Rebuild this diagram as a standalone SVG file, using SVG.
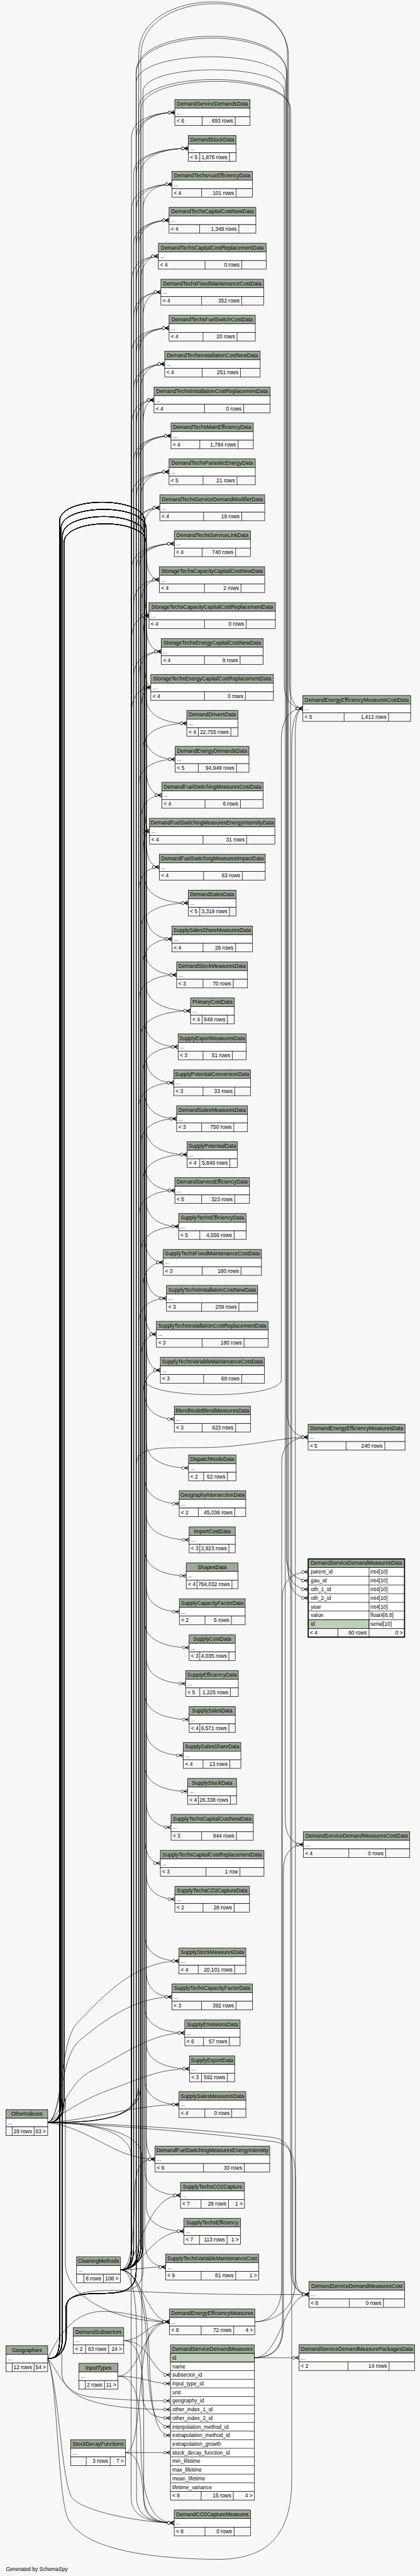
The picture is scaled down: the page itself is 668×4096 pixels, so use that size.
<svg xmlns="http://www.w3.org/2000/svg" width="668" height="4096" viewBox="0 0 668 4096">
<defs>
<style>
.h{fill:#9bab96;stroke:#000;stroke-width:1.3}
.w{fill:#fff;stroke:#000;stroke-width:1.3}
.f{fill:#f7f7f7;stroke:#000;stroke-width:1.3}
.p{fill:#bed1b8;stroke:#000;stroke-width:1.3}
.s{fill:none;stroke:#000;stroke-width:1.3}
text{font-family:"Liberation Sans",Arial,Helvetica,sans-serif;font-size:14.67px;fill:#000}
.c{text-anchor:middle}
.e{text-anchor:end}
.ed path{fill:none;stroke:#000;stroke-width:1.1;marker-end:url(#cf)}
</style>
<marker id="cf" markerUnits="userSpaceOnUse" orient="auto" markerWidth="24" markerHeight="14" refX="20" refY="7" viewBox="0 0 24 14" overflow="visible">
<path d="M9,7L20,1.5M9,7L20,7M9,7L20,12.5" fill="none" stroke="#000" stroke-width="1.5"/>
<circle cx="5" cy="7" r="4" fill="#fff" stroke="#000" stroke-width="1.2"/>
</marker>
</defs>
<rect width="668" height="4096" fill="#f7f7f7"/>
<g transform="scale(0.5714)">
<g id="connectors" class="ed">
<path d="M334.9,6316.5C360,6316.5 386,6300 386,6250V383C386,333 436,313 486.7,313"/>
<path d="M334.9,6316.5C360,6316.5 392,6300 392,6250V483C392,433 458,413 524,413"/>
<path d="M334.9,6316.5C360,6316.5 398,6300 398,6250V583C398,533 438,513 478.6,513"/>
<path d="M334.9,6316.5C360,6316.5 386,6300 386,6250V683C386,633 428,613 470.6,613"/>
<path d="M334.9,6316.5C360,6316.5 392,6300 392,6250V783C392,733 416,713 440.9,713"/>
<path d="M334.9,6316.5C360,6316.5 398,6300 398,6250V883C398,833 423,813 447.9,813"/>
<path d="M334.9,6316.5C360,6316.5 386,6300 386,6250V983C386,933 428,913 470.6,913"/>
<path d="M334.9,6316.5C360,6316.5 392,6300 392,6250V1083C392,1033 425,1013 458.5,1013"/>
<path d="M334.9,6316.5C360,6316.5 398,6300 398,6250V1183C398,1133 413,1113 428.8,1113"/>
<path d="M334.9,6316.5C360,6316.5 386,6300 386,6250V1283C386,1233 431,1213 476.1,1213"/>
<path d="M334.9,6316.5C360,6316.5 392,6300 392,6250V1383C392,1333 431,1313 470.6,1313"/>
<path d="M334.9,6316.5C360,6316.5 398,6300 398,6250V1483C398,1433 421,1413 444.9,1413"/>
<path d="M334.9,6316.5C360,6316.5 386,6300 386,6250V1583C386,1533 436,1513 485.2,1513"/>
<path d="M334.9,6316.5C360,6316.5 392,6300 392,6250V1683C392,1633 418,1613 443.4,1613"/>
<path d="M334.9,6316.5C360,6316.5 398,6300 398,6250V1783C398,1733 406,1713 414.7,1713"/>
<path d="M334.9,6316.5C360,6316.5 386,6300 386,6250V1883C386,1833 418,1813 449,1813"/>
<path d="M334.9,6316.5C360,6316.5 392,6300 392,6250V1983C392,1933 406,1913 419.8,1913"/>
<path d="M334.9,6316.5C360,6316.5 398,6300 398,6250V2083C398,2033 459,2013 519.9,2013"/>
<path d="M334.9,6316.5C360,6316.5 386,6300 386,6250V2183C386,2133 437,2113 487.7,2113"/>
<path d="M334.9,6316.5C360,6316.5 392,6300 392,6250V2283C392,2233 421,2213 450.5,2213"/>
<path d="M334.9,6316.5C360,6316.5 398,6300 398,6250V2383C398,2333 407,2313 416.2,2313"/>
<path d="M334.9,6316.5C360,6316.5 386,6300 386,6250V2483C386,2433 415,2413 443.4,2413"/>
<path d="M334.9,6316.5C360,6316.5 392,6300 392,6250V2583C392,2533 458,2513 524,2513"/>
<path d="M334.9,6316.5C360,6316.5 398,6300 398,6250V2683C398,2633 438,2613 478.6,2613"/>
<path d="M334.9,6316.5C360,6316.5 386,6300 386,6250V2783C386,2733 439,2713 491.7,2713"/>
<path d="M334.9,6316.5C360,6316.5 392,6300 392,6250V2883C392,2833 461,2813 530.5,2813"/>
<path d="M334.9,6316.5C360,6316.5 398,6300 398,6250V2983C398,2933 447,2913 495.8,2913"/>
<path d="M334.9,6316.5C360,6316.5 386,6300 386,6250V3083C386,3033 435,3013 483.7,3013"/>
<path d="M334.9,6316.5C360,6316.5 392,6300 392,6250V3183C392,3133 442,3113 491.7,3113"/>
<path d="M334.9,6316.5C360,6316.5 398,6300 398,6250V3283C398,3233 459,3213 520.9,3213"/>
<path d="M334.9,6316.5C360,6316.5 386,6300 386,6250V3383C386,3333 436,3313 486.7,3313"/>
<path d="M334.9,6316.5C360,6316.5 392,6300 392,6250V3483C392,3433 445,3413 497.3,3413"/>
<path d="M334.9,6316.5C360,6316.5 398,6300 398,6250V3583C398,3533 426,3513 454.5,3513"/>
<path d="M334.9,6316.5C360,6316.5 386,6300 386,6250V3683C386,3633 425,3613 463.5,3613"/>
<path d="M334.9,6316.5C360,6316.5 392,6300 392,6250V3783C392,3733 414,3713 435.4,3713"/>
<path d="M334.9,6316.5C360,6316.5 398,6300 398,6250V3883C398,3833 422,3813 446.4,3813"/>
<path d="M334.9,6316.5C360,6316.5 366,6300 366,6250V383C366,333 426,313 486.7,313"/>
<path d="M334.9,6316.5C360,6316.5 372,6300 372,6250V483C372,433 448,413 524,413"/>
<path d="M334.9,6316.5C360,6316.5 366,6300 366,6250V583C366,533 422,513 478.6,513"/>
<path d="M334.9,6316.5C360,6316.5 372,6300 372,6250V683C372,633 421,613 470.6,613"/>
<path d="M334.9,6316.5C360,6316.5 366,6300 366,6250V783C366,733 403,713 440.9,713"/>
<path d="M334.9,6316.5C360,6316.5 372,6300 372,6250V883C372,833 410,813 447.9,813"/>
<path d="M334.9,6316.5C360,6316.5 366,6300 366,6250V983C366,933 418,913 470.6,913"/>
<path d="M334.9,6316.5C360,6316.5 372,6300 372,6250V1083C372,1033 415,1013 458.5,1013"/>
<path d="M334.9,6316.5C360,6316.5 366,6300 366,6250V1183C366,1133 397,1113 428.8,1113"/>
<path d="M334.9,6316.5C360,6316.5 372,6300 372,6250V1283C372,1233 424,1213 476.1,1213"/>
<path d="M334.9,6316.5C360,6316.5 366,6300 366,6250V1383C366,1333 418,1313 470.6,1313"/>
<path d="M334.9,6316.5C360,6316.5 372,6300 372,6250V1483C372,1433 408,1413 444.9,1413"/>
<path d="M334.9,6316.5C360,6316.5 366,6300 366,6250V1583C366,1533 426,1513 485.2,1513"/>
<path d="M334.9,6316.5C360,6316.5 372,6300 372,6250V1683C372,1633 408,1613 443.4,1613"/>
<path d="M334.9,6316.5C360,6316.5 366,6300 366,6250V1783C366,1733 390,1713 414.7,1713"/>
<path d="M334.9,6316.5C360,6316.5 372,6300 372,6250V1883C372,1833 410,1813 449,1813"/>
<path d="M334.9,6316.5C360,6316.5 366,6300 366,6250V1983C366,1933 393,1913 419.8,1913"/>
<path d="M132.8,6563.5C160,6563.5 184,6545 184,6500V6420C184,6390 220,6382 280,6382C340,6382 379,6375 379,6320V383C379,333 433,313 486.7,313"/>
<path d="M132.8,6563.5C160,6563.5 184,6545 184,6500V6420C184,6390 220,6382 280,6382C340,6382 379,6375 379,6320V483C379,433 451,413 524,413"/>
<path d="M132.8,6563.5C160,6563.5 184,6545 184,6500V6420C184,6390 220,6382 280,6382C340,6382 379,6375 379,6320V583C379,533 429,513 478.6,513"/>
<path d="M132.8,6563.5C160,6563.5 184,6545 184,6500V6420C184,6390 220,6382 280,6382C340,6382 379,6375 379,6320V683C379,633 425,613 470.6,613"/>
<path d="M132.8,6563.5C160,6563.5 184,6545 184,6500V6420C184,6390 220,6382 280,6382C340,6382 379,6375 379,6320V783C379,733 410,713 440.9,713"/>
<path d="M132.8,6563.5C160,6563.5 184,6545 184,6500V6420C184,6390 220,6382 280,6382C340,6382 379,6375 379,6320V883C379,833 413,813 447.9,813"/>
<path d="M132.8,6563.5C160,6563.5 184,6545 184,6500V6420C184,6390 220,6382 280,6382C340,6382 379,6375 379,6320V983C379,933 425,913 470.6,913"/>
<path d="M132.8,6563.5C160,6563.5 184,6545 184,6500V6420C184,6390 220,6382 280,6382C340,6382 379,6375 379,6320V1083C379,1033 419,1013 458.5,1013"/>
<path d="M132.8,6563.5C160,6563.5 184,6545 184,6500V6420C184,6390 220,6382 280,6382C340,6382 379,6375 379,6320V1183C379,1133 404,1113 428.8,1113"/>
<path d="M132.8,6563.5C160,6563.5 184,6545 184,6500V6420C184,6390 220,6382 280,6382C340,6382 379,6375 379,6320V1283C379,1233 428,1213 476.1,1213"/>
<path d="M132.8,6563.5C160,6563.5 184,6545 184,6500V6420C184,6390 220,6382 280,6382C340,6382 379,6375 379,6320V1383C379,1333 425,1313 470.6,1313"/>
<path d="M132.8,6563.5C160,6563.5 184,6545 184,6500V6420C184,6390 220,6382 280,6382C340,6382 379,6375 379,6320V1483C379,1433 412,1413 444.9,1413"/>
<path d="M132.8,6563.5C160,6563.5 184,6545 184,6500V6420C184,6390 220,6382 280,6382C340,6382 379,6375 379,6320V1583C379,1533 432,1513 485.2,1513"/>
<path d="M132.8,5906.5C160,5906.5 170,5890 170,5840V1470C170,1400 407,1400 407,1470V1543C407,1593 425,1613 443.4,1613"/>
<path d="M132.8,6563.5C160,6563.5 174,6545 174,6500V1490C174,1420 403,1420 403,1490V1643C403,1693 409,1713 414.7,1713"/>
<path d="M132.8,5906.5C160,5906.5 178,5890 178,5840V1510C178,1440 407,1440 407,1510V1743C407,1793 428,1813 449,1813"/>
<path d="M132.8,6563.5C160,6563.5 166,6545 166,6500V1450C166,1380 403,1380 403,1450V1843C403,1893 411,1913 419.8,1913"/>
<path d="M132.8,5906.5C160,5906.5 170,5890 170,5840V1470C170,1400 407,1400 407,1470V1943C407,1993 463,2013 519.9,2013"/>
<path d="M132.8,6563.5C160,6563.5 174,6545 174,6500V1490C174,1420 403,1420 403,1490V2043C403,2093 445,2113 487.7,2113"/>
<path d="M132.8,5906.5C160,5906.5 178,5890 178,5840V1510C178,1440 407,1440 407,1510V2143C407,2193 429,2213 450.5,2213"/>
<path d="M132.8,6563.5C160,6563.5 166,6545 166,6500V1450C166,1380 403,1380 403,1450V2243C403,2293 410,2313 416.2,2313"/>
<path d="M132.8,5906.5C160,5906.5 170,5890 170,5840V1470C170,1400 407,1400 407,1470V2343C407,2393 425,2413 443.4,2413"/>
<path d="M132.8,6563.5C160,6563.5 174,6545 174,6500V1490C174,1420 403,1420 403,1490V2443C403,2493 463,2513 524,2513"/>
<path d="M132.8,5906.5C160,5906.5 178,5890 178,5840V1510C178,1440 407,1440 407,1510V2543C407,2593 443,2613 478.6,2613"/>
<path d="M132.8,6563.5C160,6563.5 166,6545 166,6500V1450C166,1380 403,1380 403,1450V2643C403,2693 447,2713 491.7,2713"/>
<path d="M132.8,5906.5C160,5906.5 170,5890 170,5840V1470C170,1400 407,1400 407,1470V2743C407,2793 469,2813 530.5,2813"/>
<path d="M132.8,6563.5C160,6563.5 174,6545 174,6500V1490C174,1420 403,1420 403,1490V2843C403,2893 449,2913 495.8,2913"/>
<path d="M132.8,5906.5C160,5906.5 178,5890 178,5840V1510C178,1440 407,1440 407,1510V2943C407,2993 445,3013 483.7,3013"/>
<path d="M132.8,6563.5C160,6563.5 166,6545 166,6500V1450C166,1380 403,1380 403,1450V3043C403,3093 447,3113 491.7,3113"/>
<path d="M132.8,5906.5C160,5906.5 170,5890 170,5840V1470C170,1400 407,1400 407,1470V3143C407,3193 464,3213 520.9,3213"/>
<path d="M132.8,6563.5C160,6563.5 174,6545 174,6500V1490C174,1420 403,1420 403,1490V3243C403,3293 445,3313 486.7,3313"/>
<path d="M132.8,5906.5C160,5906.5 178,5890 178,5840V1510C178,1440 407,1440 407,1510V3343C407,3393 452,3413 497.3,3413"/>
<path d="M132.8,6563.5C160,6563.5 166,6545 166,6500V1450C166,1380 403,1380 403,1450V3443C403,3493 429,3513 454.5,3513"/>
<path d="M132.8,5906.5C160,5906.5 170,5890 170,5840V1470C170,1400 407,1400 407,1470V3543C407,3593 435,3613 463.5,3613"/>
<path d="M132.8,6563.5C160,6563.5 174,6545 174,6500V1490C174,1420 403,1420 403,1490V3643C403,3693 419,3713 435.4,3713"/>
<path d="M132.8,5906.5C160,5906.5 178,5890 178,5840V1510C178,1440 407,1440 407,1510V3743C407,3793 427,3813 446.4,3813"/>
<path d="M132.8,6563.5C160,6563.5 166,6545 166,6500V1450C166,1380 403,1380 403,1450V3879C403,3929 444,3949 485.2,3949"/>
<path d="M132.8,5906.5C160,5906.5 170,5890 170,5840V1470C170,1400 407,1400 407,1470V4015C407,4065 466,4085 524.9,4085"/>
<path d="M132.8,6563.5C160,6563.5 174,6545 174,6500V1490C174,1420 403,1420 403,1490V4114.5C403,4164.5 451,4184.5 498.8,4184.5"/>
<path d="M132.8,5906.5C160,5906.5 178,5890 178,5840V1510C178,1440 407,1440 407,1510V4215C407,4265 467,4285 526.5,4285"/>
<path d="M132.8,6563.5C160,6563.5 166,6545 166,6500V1450C166,1380 403,1380 403,1450V4315C403,4365 461,4385 518.4,4385"/>
<path d="M132.8,5906.5C160,5906.5 170,5890 170,5840V1470C170,1400 407,1400 407,1470V4415C407,4465 453,4485 499.3,4485"/>
<path d="M132.8,6563.5C160,6563.5 174,6545 174,6500V1490C174,1420 403,1420 403,1490V4515C403,4565 465,4585 526.5,4585"/>
<path d="M132.8,5906.5C160,5906.5 178,5890 178,5840V1510C178,1440 407,1440 407,1510V4615C407,4665 462,4685 516.9,4685"/>
<path d="M132.8,6563.5C160,6563.5 166,6545 166,6500V1450C166,1380 403,1380 403,1450V4715C403,4765 465,4785 526.5,4785"/>
<path d="M132.8,5906.5C160,5906.5 170,5890 170,5840V1470C170,1400 407,1400 407,1470V4815C407,4865 459,4885 510.3,4885"/>
<path d="M132.8,6563.5C160,6563.5 174,6545 174,6500V1490C174,1420 403,1420 403,1490V4915C403,4965 463,4985 522.4,4985"/>
<path d="M132.8,5906.5C160,5906.5 178,5890 178,5840V1510C178,1440 407,1440 407,1510V5015C407,5065 442,5085 476.1,5085"/>
<path d="M132.8,6563.5C160,6563.5 166,6545 166,6500V1450C166,1380 403,1380 403,1450V5115C403,5165 425,5185 446.4,5185"/>
<path d="M132.8,5906.5C160,5906.5 170,5890 170,5840V1470C170,1400 407,1400 407,1470V5215C407,5265 447,5285 486.7,5285"/>
<path d="M132.8,6563.5C160,6563.5 174,6545 174,6500V1490C174,1420 403,1420 403,1490V5387C403,5437 451,5457 498.3,5457"/>
<path d="M132.8,5906.5C160,5906.5 178,5890 178,5840V1510C178,1440 407,1440 407,1510V5487C407,5537 443,5557 478.4,5557"/>
<path d="M132.8,6563.5C160,6563.5 166,6545 166,6500V1450C166,1380 403,1380 403,1450V5587C403,5637 459,5657 514.4,5657"/>
<path d="M132.8,5906.5C160,5906.5 170,5890 170,5840V1470C170,1400 407,1400 407,1470V5687C407,5737 467,5757 527.4,5757"/>
<path d="M132.8,6563.5C160,6563.5 174,6545 174,6500V1490C174,1420 403,1420 403,1490V5786.5C403,5836.5 451,5856.5 498.3,5856.5"/>
<path d="M132.8,5906.5C160,5906.5 178,5890 178,5840V1510C178,1440 407,1440 407,1510V5938.5C407,5988.5 419,6008.5 431.7,6008.5"/>
<path d="M132.8,6563.5C160,6563.5 166,6545 166,6500V1450C166,1380 403,1380 403,1450V6039C403,6089 453,6109 502.5,6109"/>
<path d="M132.8,5906.5C160,5906.5 170,5890 170,5840V1470C170,1400 407,1400 407,1470V6139C407,6189 460,6209 512,6209"/>
<path d="M132.8,6563.5C160,6563.5 174,6545 174,6500V1490C174,1420 403,1420 403,1490V6238.5C403,6288.5 432,6308.5 461.2,6308.5"/>
<path d="M132.8,5906.5C175,5895 165,5680 215,5630C290,5550 380,5457 498.3,5457"/>
<path d="M132.8,5906.5C170,5895 170,5720 220,5680C290,5620 380,5557 478.4,5557"/>
<path d="M132.8,5906.5C170,5890 190,5790 260,5760C340,5720 420,5657 514.4,5657"/>
<path d="M132.8,5906.5C180,5880 230,5840 320,5810C400,5780 450,5757 527.4,5757"/>
<path d="M132.8,5906.5C250,5900 380,5856.5 498.3,5856.5"/>
<path d="M132.8,5906.5C250,5920 320,6008.5 431.7,6008.5"/>
<path d="M334.9,6316.5C370,6316.5 372,6200 375,6100C378,6030 390,6008.5 431.7,6008.5"/>
<path d="M334.9,6316.5C385,6316.5 400,6109 502.5,6109"/>
<path d="M334.9,6316.5C395,6316.5 420,6209 512,6209"/>
<path d="M334.9,6316.5C380,6316.5 400,6308.5 461.2,6308.5"/>
<path d="M334.9,6316.5C395,6320 410,6461 471.9,6461"/>
<path d="M344.4,6513C400,6513 410,6461 471.9,6461"/>
<path d="M328.4,6612.5C390,6612.5 400,6461 471.9,6461"/>
<path d="M349.4,6825C380,6825 385,6700 395,6600C405,6500 420,6461 471.9,6461"/>
<path d="M132.8,6563.5C170,6480 220,6430 290,6432C380,6435 420,6461 471.9,6461"/>
<path d="M132.8,5906.5C160,5906.5 182,5890 182,5840V6300C182,6380 300,6461 471.9,6461"/>
<path d="M344.4,6513C420,6513 420,6609 474.5,6609"/>
<path d="M328.4,6612.5C400,6612.5 420,6633 474.5,6633"/>
<path d="M132.8,6563.5C165,6600 175,6660 250,6670C350,6680 420,6681 474.5,6681"/>
<path d="M132.8,5906.5C160,5906.5 172,5890 172,5840V6600C172,6680 300,6705 474.5,6705"/>
<path d="M132.8,5906.5C250,5906.5 395,5930 395,6000V6650C395,6710 420,6729 474.5,6729"/>
<path d="M334.9,6316.5C380,6316.5 405,6400 410,6550C415,6700 430,6753 474.5,6753"/>
<path d="M334.9,6316.5C385,6316.5 410,6400 415,6550C420,6720 435,6777 474.5,6777"/>
<path d="M349.4,6825H474.5"/>
<path d="M132.8,6563.5C165,6650 170,6900 200,6950C230,6990 400,7020.5 484.9,7020.5"/>
<path d="M334.9,6316.5C370,6316.5 380,6400 380,6500V6950C380,7000 420,7020.5 484.9,7020.5"/>
<path d="M344.4,6513C390,6513 400,6600 400,6700V6950C400,7005 430,7020.5 484.9,7020.5"/>
<path d="M328.4,6612.5C385,6612.5 390,6700 392,6800C394,6950 420,7020.5 484.9,7020.5"/>
<path d="M349.4,6825C390,6825 395,6900 400,6950C405,7000 430,7020.5 484.9,7020.5"/>
<path d="M132.8,5906.5C250,5906.5 365,5930 365,6000V6950C365,7005 420,7020.5 484.9,7020.5"/>
<path d="M708,6561H832.6"/>
<path d="M708,6561C780,6561 790,6385 860.2,6385"/>
<path d="M708,6561C760,6561 786,6530 786,6480V4444C786,4394 822,4374.3 858,4374.3"/>
<path d="M708,6561C765,6561 789,6530 789,6470V5203C789,5153 817,5133 844.5,5133"/>
<path d="M709.1,6461C760,6461 822,6430 822,6350V2041C822,1991 832,1971.4 843,1971.4"/>
<path d="M709.1,6461C750,6461 784,6430 784,6360V4069C784,4019 821,3999.4 857.6,3999.4"/>
<path d="M132.8,6563.5C160,6620 160,6950 190,7010C230,7090 400,7120 600,7122C740,7124 812,7060 812,6900V2070C812,2010 825,1971.4 843,1971.4"/>
<path d="M132.8,6563.5C160,6563.5 186,6545 186,6480V6420C186,6380 250,6370 350,6375C600,6388 780,6385 860.2,6385"/>
<path d="M132.8,5906.5C400,5912 650,5935 760,5948C805,5955 815,5990 815,6060V6320C815,6365 830,6385 860.2,6385"/>
<path d="M132.8,5906.5C400,5918 655,5945 765,5960C812,5968 823,6000 823,6080V6330C823,6368 835,6385 860.2,6385"/>
<path d="M132.8,6563.5C160,6563.5 166,6545 166,6500V1450C166,1380 403,1380 403,1450V3840C403,3895 783,3895 783,3840V2060C783,2000 810,1971.4 843,1971.4"/>
<path d="M132.8,6563.5C160,6563.5 184,6545 184,6500V6420C184,6390 220,6382 280,6382C340,6382 379,6375 379,6320V4080C379,4020 450,4030 581,4028C700,4025 780,4000 857.6,3999.4"/>
<path d="M132.8,5906.5C300,5906.5 386,5890 386,5800V150C386,-43 800,-43 800,150V4352.7C800,4402.7 829,4422.7 858,4422.7"/>
<path d="M132.8,5906.5C300,5906.5 392,5890 392,5800V155C392,-38 803,-38 803,155V4376.9C803,4426.9 830,4446.9 858,4446.9"/>
<path d="M132.8,6563.5C160,6563.5 184,6545 184,6500V6420C184,6390 220,6382 280,6382C340,6382 379,6375 379,6320V200C379,68 797,68 797,200V4328.5C797,4378.5 827,4398.5 858,4398.5"/>
<path d="M132.8,6563.5C160,6563.5 184,6545 184,6500V6420C184,6390 220,6382 280,6382C340,6382 379,6375 379,6320V205C379,73 799,73 799,205V3929.4C799,3979.4 828,3999.4 857.6,3999.4"/>
<path d="M132.8,6563.5C160,6563.5 184,6545 184,6500V6420C184,6390 220,6382 280,6382C340,6382 379,6375 379,6320V230C379,134 794,134 794,230V5063C794,5113 819,5133 844.5,5133"/>
<path d="M132.8,6563.5C160,6563.5 184,6545 184,6500V6420C184,6390 220,6382 280,6382C340,6382 398,6375 398,6320V255C398,174 791,174 791,255V1901.4C791,1951.4 817,1971.4 843,1971.4"/>
<path d="M132.8,5906.5C300,5906.5 386,5890 386,5800V300C386,195 806,195 806,300V1901.4C806,1951.4 824,1971.4 843,1971.4"/>
<path d="M132.8,5906.5C300,5906.5 392,5890 392,5800V305C392,200 809,200 809,305V6315C809,6365 835,6385 860.2,6385"/>
</g>
<g id="DemandServiceDemandsData" transform="translate(486.7,277)"><rect class="h" width="209.3" height="24"/><rect class="w" y="24" width="209.3" height="24"/><rect class="f" y="48" width="209.3" height="24"/><path class="s" d="M76,48v24M168.1,48v24"/><text class="c" x="104.65" y="17">DemandServiceDemandsData</text><text x="5" y="41">...</text><text x="5" y="65">&lt; 6</text><text class="e" x="162.1" y="65">693 rows</text></g>
<g id="DemandStockData" transform="translate(524,377)"><rect class="h" width="132.8" height="24"/><rect class="w" y="24" width="132.8" height="24"/><rect class="f" y="48" width="132.8" height="24"/><path class="s" d="M32,48v24M114.7,48v24"/><text class="c" x="66.4" y="17">DemandStockData</text><text x="5" y="41">...</text><text x="5" y="65">&lt; 5</text><text class="e" x="108.7" y="65">1,876 rows</text></g>
<g id="DemandTechsAuxEfficiencyData" transform="translate(478.6,477)"><rect class="h" width="224" height="24"/><rect class="w" y="24" width="224" height="24"/><rect class="f" y="48" width="224" height="24"/><path class="s" d="M82.6,48v24M178.7,48v24"/><text class="c" x="112" y="17">DemandTechsAuxEfficiencyData</text><text x="5" y="41">...</text><text x="5" y="65">&lt; 4</text><text class="e" x="172.7" y="65">101 rows</text></g>
<g id="DemandTechsCapitalCostNewData" transform="translate(470.6,577)"><rect class="h" width="241.6" height="24"/><rect class="w" y="24" width="241.6" height="24"/><rect class="f" y="48" width="241.6" height="24"/><path class="s" d="M85,48v24M194.3,48v24"/><text class="c" x="120.8" y="17">DemandTechsCapitalCostNewData</text><text x="5" y="41">...</text><text x="5" y="65">&lt; 4</text><text class="e" x="188.3" y="65">1,349 rows</text></g>
<g id="DemandTechsCapitalCostReplacementData" transform="translate(440.9,677)"><rect class="h" width="299.9" height="24"/><rect class="w" y="24" width="299.9" height="24"/><rect class="f" y="48" width="299.9" height="24"/><path class="s" d="M129.8,48v24M232,48v24"/><text class="c" x="149.95" y="17">DemandTechsCapitalCostReplacementData</text><text x="5" y="41">...</text><text x="5" y="65">&lt; 4</text><text class="e" x="226" y="65">0 rows</text></g>
<g id="DemandTechsFixedMaintenanceCostData" transform="translate(447.9,777)"><rect class="h" width="285.9" height="24"/><rect class="w" y="24" width="285.9" height="24"/><rect class="f" y="48" width="285.9" height="24"/><path class="s" d="M113.3,48v24M225,48v24"/><text class="c" x="142.95" y="17">DemandTechsFixedMaintenanceCostData</text><text x="5" y="41">...</text><text x="5" y="65">&lt; 4</text><text class="e" x="219" y="65">352 rows</text></g>
<g id="DemandTechsFuelSwitchCostData" transform="translate(470.6,877)"><rect class="h" width="240" height="24"/><rect class="w" y="24" width="240" height="24"/><rect class="f" y="48" width="240" height="24"/><path class="s" d="M94.6,48v24M189.2,48v24"/><text class="c" x="120" y="17">DemandTechsFuelSwitchCostData</text><text x="5" y="41">...</text><text x="5" y="65">&lt; 4</text><text class="e" x="183.2" y="65">20 rows</text></g>
<g id="DemandTechsInstallationCostNewData" transform="translate(458.5,977)"><rect class="h" width="265.7" height="24"/><rect class="w" y="24" width="265.7" height="24"/><rect class="f" y="48" width="265.7" height="24"/><path class="s" d="M104.2,48v24M210.9,48v24"/><text class="c" x="132.85" y="17">DemandTechsInstallationCostNewData</text><text x="5" y="41">...</text><text x="5" y="65">&lt; 4</text><text class="e" x="204.9" y="65">251 rows</text></g>
<g id="DemandTechsInstallationCostReplacementData" transform="translate(428.8,1077)"><rect class="h" width="323.1" height="24"/><rect class="w" y="24" width="323.1" height="24"/><rect class="f" y="48" width="323.1" height="24"/><path class="s" d="M140.4,48v24M249.6,48v24"/><text class="c" x="161.55" y="17">DemandTechsInstallationCostReplacementData</text><text x="5" y="41">...</text><text x="5" y="65">&lt; 4</text><text class="e" x="243.6" y="65">0 rows</text></g>
<g id="DemandTechsMainEfficiencyData" transform="translate(476.1,1177)"><rect class="h" width="229" height="24"/><rect class="w" y="24" width="229" height="24"/><rect class="f" y="48" width="229" height="24"/><path class="s" d="M80,48v24M186.7,48v24"/><text class="c" x="114.5" y="17">DemandTechsMainEfficiencyData</text><text x="5" y="41">...</text><text x="5" y="65">&lt; 4</text><text class="e" x="180.7" y="65">1,784 rows</text></g>
<g id="DemandTechsParasiticEnergyData" transform="translate(470.6,1277)"><rect class="h" width="240" height="24"/><rect class="w" y="24" width="240" height="24"/><rect class="f" y="48" width="240" height="24"/><path class="s" d="M94.6,48v24M189.2,48v24"/><text class="c" x="120" y="17">DemandTechsParasiticEnergyData</text><text x="5" y="41">...</text><text x="5" y="65">&lt; 5</text><text class="e" x="183.2" y="65">21 rows</text></g>
<g id="DemandTechsServiceDemandModifierData" transform="translate(444.9,1377)"><rect class="h" width="291.9" height="24"/><rect class="w" y="24" width="291.9" height="24"/><rect class="f" y="48" width="291.9" height="24"/><path class="s" d="M121.8,48v24M228,48v24"/><text class="c" x="145.95" y="17">DemandTechsServiceDemandModifierData</text><text x="5" y="41">...</text><text x="5" y="65">&lt; 4</text><text class="e" x="222" y="65">19 rows</text></g>
<g id="DemandTechsServiceLinkData" transform="translate(485.2,1477)"><rect class="h" width="211.9" height="24"/><rect class="w" y="24" width="211.9" height="24"/><rect class="f" y="48" width="211.9" height="24"/><path class="s" d="M77.5,48v24M170.6,48v24"/><text class="c" x="105.95" y="17">DemandTechsServiceLinkData</text><text x="5" y="41">...</text><text x="5" y="65">&lt; 4</text><text class="e" x="164.6" y="65">740 rows</text></g>
<g id="StorageTechsCapacityCapitalCostNewData" transform="translate(443.4,1577)"><rect class="h" width="293.4" height="24"/><rect class="w" y="24" width="293.4" height="24"/><rect class="f" y="48" width="293.4" height="24"/><path class="s" d="M125.8,48v24M227.5,48v24"/><text class="c" x="146.7" y="17">StorageTechsCapacityCapitalCostNewData</text><text x="5" y="41">...</text><text x="5" y="65">&lt; 4</text><text class="e" x="221.5" y="65">2 rows</text></g>
<g id="StorageTechsCapacityCapitalCostReplacementData" transform="translate(414.7,1677)"><rect class="h" width="351.8" height="24"/><rect class="w" y="24" width="351.8" height="24"/><rect class="f" y="48" width="351.8" height="24"/><path class="s" d="M154.5,48v24M270.8,48v24"/><text class="c" x="175.9" y="17">StorageTechsCapacityCapitalCostReplacementData</text><text x="5" y="41">...</text><text x="5" y="65">&lt; 4</text><text class="e" x="264.8" y="65">0 rows</text></g>
<g id="StorageTechsEnergyCapitalCostNewData" transform="translate(449,1777)"><rect class="h" width="283.3" height="24"/><rect class="w" y="24" width="283.3" height="24"/><rect class="f" y="48" width="283.3" height="24"/><path class="s" d="M120.2,48v24M219.4,48v24"/><text class="c" x="141.65" y="17">StorageTechsEnergyCapitalCostNewData</text><text x="5" y="41">...</text><text x="5" y="65">&lt; 4</text><text class="e" x="213.4" y="65">9 rows</text></g>
<g id="StorageTechsEnergyCapitalCostReplacementData" transform="translate(419.8,1877)"><rect class="h" width="341.2" height="24"/><rect class="w" y="24" width="341.2" height="24"/><rect class="f" y="48" width="341.2" height="24"/><path class="s" d="M149.4,48v24M263.2,48v24"/><text class="c" x="170.6" y="17">StorageTechsEnergyCapitalCostReplacementData</text><text x="5" y="41">...</text><text x="5" y="65">&lt; 4</text><text class="e" x="257.2" y="65">0 rows</text></g>
<g id="DemandDriversData" transform="translate(519.9,1977)"><rect class="h" width="142.4" height="24"/><rect class="w" y="24" width="142.4" height="24"/><rect class="f" y="48" width="142.4" height="24"/><path class="s" d="M32.2,48v24M122.8,48v24"/><text class="c" x="71.2" y="17">DemandDriversData</text><text x="5" y="41">...</text><text x="5" y="65">&lt; 4</text><text class="e" x="116.8" y="65">22,755 rows</text></g>
<g id="DemandEnergyDemandsData" transform="translate(487.7,2077)"><rect class="h" width="205.3" height="24"/><rect class="w" y="24" width="205.3" height="24"/><rect class="f" y="48" width="205.3" height="24"/><path class="s" d="M64.4,48v24M170.6,48v24"/><text class="c" x="102.65" y="17">DemandEnergyDemandsData</text><text x="5" y="41">...</text><text x="5" y="65">&lt; 5</text><text class="e" x="164.6" y="65">94,949 rows</text></g>
<g id="DemandFuelSwitchingMeasuresCostData" transform="translate(450.5,2177)"><rect class="h" width="281.8" height="24"/><rect class="w" y="24" width="281.8" height="24"/><rect class="f" y="48" width="281.8" height="24"/><path class="s" d="M120.2,48v24M218.9,48v24"/><text class="c" x="140.9" y="17">DemandFuelSwitchingMeasuresCostData</text><text x="5" y="41">...</text><text x="5" y="65">&lt; 4</text><text class="e" x="212.9" y="65">6 rows</text></g>
<g id="DemandFuelSwitchingMeasuresEnergyIntensityData" transform="translate(416.2,2277)"><rect class="h" width="348.8" height="24"/><rect class="w" y="24" width="348.8" height="24"/><rect class="f" y="48" width="348.8" height="24"/><path class="s" d="M149,48v24M270.3,48v24"/><text class="c" x="174.4" y="17">DemandFuelSwitchingMeasuresEnergyIntensityData</text><text x="5" y="41">...</text><text x="5" y="65">&lt; 4</text><text class="e" x="264.3" y="65">31 rows</text></g>
<g id="DemandFuelSwitchingMeasuresImpactData" transform="translate(443.4,2377)"><rect class="h" width="294.9" height="24"/><rect class="w" y="24" width="294.9" height="24"/><rect class="f" y="48" width="294.9" height="24"/><path class="s" d="M123.3,48v24M231,48v24"/><text class="c" x="147.45" y="17">DemandFuelSwitchingMeasuresImpactData</text><text x="5" y="41">...</text><text x="5" y="65">&lt; 4</text><text class="e" x="225" y="65">63 rows</text></g>
<g id="DemandSalesData" transform="translate(524,2477)"><rect class="h" width="132.8" height="24"/><rect class="w" y="24" width="132.8" height="24"/><rect class="f" y="48" width="132.8" height="24"/><path class="s" d="M32,48v24M114.7,48v24"/><text class="c" x="66.4" y="17">DemandSalesData</text><text x="5" y="41">...</text><text x="5" y="65">&lt; 5</text><text class="e" x="108.7" y="65">3,319 rows</text></g>
<g id="SupplySalesShareMeasuresData" transform="translate(478.6,2577)"><rect class="h" width="224" height="24"/><rect class="w" y="24" width="224" height="24"/><rect class="f" y="48" width="224" height="24"/><path class="s" d="M86.6,48v24M177.2,48v24"/><text class="c" x="112" y="17">SupplySalesShareMeasuresData</text><text x="5" y="41">...</text><text x="5" y="65">&lt; 4</text><text class="e" x="171.2" y="65">28 rows</text></g>
<g id="DemandStockMeasuresData" transform="translate(491.7,2677)"><rect class="h" width="197.3" height="24"/><rect class="w" y="24" width="197.3" height="24"/><rect class="f" y="48" width="197.3" height="24"/><path class="s" d="M73.5,48v24M157.5,48v24"/><text class="c" x="98.65" y="17">DemandStockMeasuresData</text><text x="5" y="41">...</text><text x="5" y="65">&lt; 3</text><text class="e" x="151.5" y="65">70 rows</text></g>
<g id="PrimaryCostData" transform="translate(530.5,2777)"><rect class="h" width="121.8" height="24"/><rect class="w" y="24" width="121.8" height="24"/><rect class="f" y="48" width="121.8" height="24"/><path class="s" d="M32.2,48v24M102.6,48v24"/><text class="c" x="60.9" y="17">PrimaryCostData</text><text x="5" y="41">...</text><text x="5" y="65">&lt; 4</text><text class="e" x="96.6" y="65">848 rows</text></g>
<g id="SupplyExportMeasuresData" transform="translate(495.8,2877)"><rect class="h" width="189.2" height="24"/><rect class="w" y="24" width="189.2" height="24"/><rect class="f" y="48" width="189.2" height="24"/><path class="s" d="M69.4,48v24M150.9,48v24"/><text class="c" x="94.6" y="17">SupplyExportMeasuresData</text><text x="5" y="41">...</text><text x="5" y="65">&lt; 3</text><text class="e" x="144.9" y="65">51 rows</text></g>
<g id="SupplyPotentialConversionData" transform="translate(483.7,2977)"><rect class="h" width="213.4" height="24"/><rect class="w" y="24" width="213.4" height="24"/><rect class="f" y="48" width="213.4" height="24"/><path class="s" d="M81.5,48v24M169.6,48v24"/><text class="c" x="106.7" y="17">SupplyPotentialConversionData</text><text x="5" y="41">...</text><text x="5" y="65">&lt; 3</text><text class="e" x="163.6" y="65">33 rows</text></g>
<g id="DemandSalesMeasuresData" transform="translate(491.7,3077)"><rect class="h" width="197.3" height="24"/><rect class="w" y="24" width="197.3" height="24"/><rect class="f" y="48" width="197.3" height="24"/><path class="s" d="M69.5,48v24M159.1,48v24"/><text class="c" x="98.65" y="17">DemandSalesMeasuresData</text><text x="5" y="41">...</text><text x="5" y="65">&lt; 3</text><text class="e" x="153.1" y="65">750 rows</text></g>
<g id="SupplyPotentialData" transform="translate(520.9,3177)"><rect class="h" width="139.9" height="24"/><rect class="w" y="24" width="139.9" height="24"/><rect class="f" y="48" width="139.9" height="24"/><path class="s" d="M35.2,48v24M118.8,48v24"/><text class="c" x="69.95" y="17">SupplyPotentialData</text><text x="5" y="41">...</text><text x="5" y="65">&lt; 4</text><text class="e" x="112.8" y="65">5,846 rows</text></g>
<g id="DemandServiceEfficiencyData" transform="translate(486.7,3277)"><rect class="h" width="207.8" height="24"/><rect class="w" y="24" width="207.8" height="24"/><rect class="f" y="48" width="207.8" height="24"/><path class="s" d="M74.5,48v24M166.6,48v24"/><text class="c" x="103.9" y="17">DemandServiceEfficiencyData</text><text x="5" y="41">...</text><text x="5" y="65">&lt; 5</text><text class="e" x="160.6" y="65">323 rows</text></g>
<g id="SupplyTechsEfficiencyData" transform="translate(497.3,3377)"><rect class="h" width="187.7" height="24"/><rect class="w" y="24" width="187.7" height="24"/><rect class="f" y="48" width="187.7" height="24"/><path class="s" d="M58.8,48v24M154.5,48v24"/><text class="c" x="93.85" y="17">SupplyTechsEfficiencyData</text><text x="5" y="41">...</text><text x="5" y="65">&lt; 5</text><text class="e" x="148.5" y="65">4,556 rows</text></g>
<g id="SupplyTechsFixedMaintenanceCostData" transform="translate(454.5,3477)"><rect class="h" width="273.3" height="24"/><rect class="w" y="24" width="273.3" height="24"/><rect class="f" y="48" width="273.3" height="24"/><path class="s" d="M108.2,48v24M216.4,48v24"/><text class="c" x="136.65" y="17">SupplyTechsFixedMaintenanceCostData</text><text x="5" y="41">...</text><text x="5" y="65">&lt; 3</text><text class="e" x="210.4" y="65">180 rows</text></g>
<g id="SupplyTechsInstallationCostNewData" transform="translate(463.5,3577)"><rect class="h" width="253.7" height="24"/><rect class="w" y="24" width="253.7" height="24"/><rect class="f" y="48" width="253.7" height="24"/><path class="s" d="M97.7,48v24M201.4,48v24"/><text class="c" x="126.85" y="17">SupplyTechsInstallationCostNewData</text><text x="5" y="41">...</text><text x="5" y="65">&lt; 3</text><text class="e" x="195.4" y="65">209 rows</text></g>
<g id="SupplyTechsInstallationCostReplacementData" transform="translate(435.4,3677)"><rect class="h" width="311" height="24"/><rect class="w" y="24" width="311" height="24"/><rect class="f" y="48" width="311" height="24"/><path class="s" d="M127.3,48v24M244,48v24"/><text class="c" x="155.5" y="17">SupplyTechsInstallationCostReplacementData</text><text x="5" y="41">...</text><text x="5" y="65">&lt; 3</text><text class="e" x="238" y="65">180 rows</text></g>
<g id="SupplyTechsVariableMaintenanceCostData" transform="translate(446.4,3777)"><rect class="h" width="289.4" height="24"/><rect class="w" y="24" width="289.4" height="24"/><rect class="f" y="48" width="289.4" height="24"/><path class="s" d="M120.3,48v24M226.5,48v24"/><text class="c" x="144.7" y="17">SupplyTechsVariableMaintenanceCostData</text><text x="5" y="41">...</text><text x="5" y="65">&lt; 3</text><text class="e" x="220.5" y="65">68 rows</text></g>
<g id="BlendNodeBlendMeasuresData" transform="translate(485.2,3913)"><rect class="h" width="211.9" height="24"/><rect class="w" y="24" width="211.9" height="24"/><rect class="f" y="48" width="211.9" height="24"/><path class="s" d="M77.5,48v24M170.6,48v24"/><text class="c" x="105.95" y="17">BlendNodeBlendMeasuresData</text><text x="5" y="41">...</text><text x="5" y="65">&lt; 3</text><text class="e" x="164.6" y="65">623 rows</text></g>
<g id="DispatchNodeData" transform="translate(524.9,4049)"><rect class="h" width="131.9" height="24"/><rect class="w" y="24" width="131.9" height="24"/><rect class="f" y="48" width="131.9" height="24"/><path class="s" d="M41.8,48v24M108.2,48v24"/><text class="c" x="65.95" y="17">DispatchNodeData</text><text x="5" y="41">...</text><text x="5" y="65">&lt; 2</text><text class="e" x="102.2" y="65">52 rows</text></g>
<g id="GeographyIntersectionData" transform="translate(498.8,4148.5)"><rect class="h" width="185.2" height="24"/><rect class="w" y="24" width="185.2" height="24"/><rect class="f" y="48" width="185.2" height="24"/><path class="s" d="M53.3,48v24M154.5,48v24"/><text class="c" x="92.6" y="17">GeographyIntersectionData</text><text x="5" y="41">...</text><text x="5" y="65">&lt; 2</text><text class="e" x="148.5" y="65">45,036 rows</text></g>
<g id="ImportCostData" transform="translate(526.5,4249)"><rect class="h" width="128.3" height="24"/><rect class="w" y="24" width="128.3" height="24"/><rect class="f" y="48" width="128.3" height="24"/><path class="s" d="M29.6,48v24M110.7,48v24"/><text class="c" x="64.15" y="17">ImportCostData</text><text x="5" y="41">...</text><text x="5" y="65">&lt; 3</text><text class="e" x="104.7" y="65">2,923 rows</text></g>
<g id="ShapesData" transform="translate(518.4,4349)"><rect class="h" width="143.9" height="24"/><rect class="w" y="24" width="143.9" height="24"/><rect class="f" y="48" width="143.9" height="24"/><path class="s" d="M29.7,48v24M127.3,48v24"/><text class="c" x="71.95" y="17">ShapesData</text><text x="5" y="41">...</text><text x="5" y="65">&lt; 4</text><text class="e" x="121.3" y="65">784,032 rows</text></g>
<g id="SupplyCapacityFactorData" transform="translate(499.3,4449)"><rect class="h" width="183.2" height="24"/><rect class="w" y="24" width="183.2" height="24"/><rect class="f" y="48" width="183.2" height="24"/><path class="s" d="M71.4,48v24M144.9,48v24"/><text class="c" x="91.6" y="17">SupplyCapacityFactorData</text><text x="5" y="41">...</text><text x="5" y="65">&lt; 2</text><text class="e" x="138.9" y="65">5 rows</text></g>
<g id="SupplyCostData" transform="translate(526.5,4549)"><rect class="h" width="128.3" height="24"/><rect class="w" y="24" width="128.3" height="24"/><rect class="f" y="48" width="128.3" height="24"/><path class="s" d="M29.6,48v24M110.7,48v24"/><text class="c" x="64.15" y="17">SupplyCostData</text><text x="5" y="41">...</text><text x="5" y="65">&lt; 3</text><text class="e" x="104.7" y="65">4,035 rows</text></g>
<g id="SupplyEfficiencyData" transform="translate(516.9,4649)"><rect class="h" width="146.4" height="24"/><rect class="w" y="24" width="146.4" height="24"/><rect class="f" y="48" width="146.4" height="24"/><path class="s" d="M39.2,48v24M124.3,48v24"/><text class="c" x="73.2" y="17">SupplyEfficiencyData</text><text x="5" y="41">...</text><text x="5" y="65">&lt; 5</text><text class="e" x="118.3" y="65">1,225 rows</text></g>
<g id="SupplySalesData" transform="translate(526.5,4749)"><rect class="h" width="128.3" height="24"/><rect class="w" y="24" width="128.3" height="24"/><rect class="f" y="48" width="128.3" height="24"/><path class="s" d="M29.6,48v24M110.7,48v24"/><text class="c" x="64.15" y="17">SupplySalesData</text><text x="5" y="41">...</text><text x="5" y="65">&lt; 4</text><text class="e" x="104.7" y="65">6,571 rows</text></g>
<g id="SupplySalesShareData" transform="translate(510.3,4849)"><rect class="h" width="160.1" height="24"/><rect class="w" y="24" width="160.1" height="24"/><rect class="f" y="48" width="160.1" height="24"/><path class="s" d="M54.9,48v24M129.4,48v24"/><text class="c" x="80.05" y="17">SupplySalesShareData</text><text x="5" y="41">...</text><text x="5" y="65">&lt; 4</text><text class="e" x="123.4" y="65">13 rows</text></g>
<g id="SupplyStockData" transform="translate(522.4,4949)"><rect class="h" width="135.9" height="24"/><rect class="w" y="24" width="135.9" height="24"/><rect class="f" y="48" width="135.9" height="24"/><path class="s" d="M29.7,48v24M118.8,48v24"/><text class="c" x="67.95" y="17">SupplyStockData</text><text x="5" y="41">...</text><text x="5" y="65">&lt; 4</text><text class="e" x="112.8" y="65">26,338 rows</text></g>
<g id="SupplyTechsCapitalCostNewData" transform="translate(476.1,5049)"><rect class="h" width="229" height="24"/><rect class="w" y="24" width="229" height="24"/><rect class="f" y="48" width="229" height="24"/><path class="s" d="M85.1,48v24M182.2,48v24"/><text class="c" x="114.5" y="17">SupplyTechsCapitalCostNewData</text><text x="5" y="41">...</text><text x="5" y="65">&lt; 3</text><text class="e" x="176.2" y="65">944 rows</text></g>
<g id="SupplyTechsCapitalCostReplacementData" transform="translate(446.4,5149)"><rect class="h" width="288.4" height="24"/><rect class="w" y="24" width="288.4" height="24"/><rect class="f" y="48" width="288.4" height="24"/><path class="s" d="M126.9,48v24M221.5,48v24"/><text class="c" x="144.2" y="17">SupplyTechsCapitalCostReplacementData</text><text x="5" y="41">...</text><text x="5" y="65">&lt; 3</text><text class="e" x="215.5" y="65">1 row</text></g>
<g id="SupplyTechsCO2CaptureData" transform="translate(486.7,5249)"><rect class="h" width="207.8" height="24"/><rect class="w" y="24" width="207.8" height="24"/><rect class="f" y="48" width="207.8" height="24"/><path class="s" d="M78.5,48v24M165.1,48v24"/><text class="c" x="103.9" y="17">SupplyTechsCO2CaptureData</text><text x="5" y="41">...</text><text x="5" y="65">&lt; 2</text><text class="e" x="159.1" y="65">28 rows</text></g>
<g id="SupplyStockMeasuresData" transform="translate(498.3,5421)"><rect class="h" width="186" height="24"/><rect class="w" y="24" width="186" height="24"/><rect class="f" y="48" width="186" height="24"/><path class="s" d="M53.6,48v24M154.9,48v24"/><text class="c" x="93" y="17">SupplyStockMeasuresData</text><text x="5" y="41">...</text><text x="5" y="65">&lt; 4</text><text class="e" x="148.9" y="65">20,101 rows</text></g>
<g id="SupplyTechsCapacityFactorData" transform="translate(478.4,5521)"><rect class="h" width="224.5" height="24"/><rect class="w" y="24" width="224.5" height="24"/><rect class="f" y="48" width="224.5" height="24"/><path class="s" d="M82.6,48v24M178.7,48v24"/><text class="c" x="112.25" y="17">SupplyTechsCapacityFactorData</text><text x="5" y="41">...</text><text x="5" y="65">&lt; 3</text><text class="e" x="172.7" y="65">392 rows</text></g>
<g id="SupplyEmissionsData" transform="translate(514.4,5621)"><rect class="h" width="153.9" height="24"/><rect class="w" y="24" width="153.9" height="24"/><rect class="f" y="48" width="153.9" height="24"/><path class="s" d="M52,48v24M124,48v24"/><text class="c" x="76.95" y="17">SupplyEmissionsData</text><text x="5" y="41">...</text><text x="5" y="65">&lt; 6</text><text class="e" x="118" y="65">57 rows</text></g>
<g id="SupplyExportData" transform="translate(527.4,5721)"><rect class="h" width="125.8" height="24"/><rect class="w" y="24" width="125.8" height="24"/><rect class="f" y="48" width="125.8" height="24"/><path class="s" d="M33.6,48v24M105.6,48v24"/><text class="c" x="62.9" y="17">SupplyExportData</text><text x="5" y="41">...</text><text x="5" y="65">&lt; 3</text><text class="e" x="99.6" y="65">592 rows</text></g>
<g id="SupplySalesMeasuresData" transform="translate(498.3,5820.5)"><rect class="h" width="186" height="24"/><rect class="w" y="24" width="186" height="24"/><rect class="f" y="48" width="186" height="24"/><path class="s" d="M71.9,48v24M146.7,48v24"/><text class="c" x="93" y="17">SupplySalesMeasuresData</text><text x="5" y="41">...</text><text x="5" y="65">&lt; 4</text><text class="e" x="140.7" y="65">0 rows</text></g>
<g id="DemandFuelSwitchingMeasuresEnergyIntensity" transform="translate(431.7,5972.5)"><rect class="h" width="319" height="24"/><rect class="w" y="24" width="319" height="24"/><rect class="f" y="48" width="319" height="24"/><path class="s" d="M134.7,48v24M248.3,48v24"/><text class="c" x="159.5" y="17">DemandFuelSwitchingMeasuresEnergyIntensity</text><text x="5" y="41">...</text><text x="5" y="65">&lt; 6</text><text class="e" x="242.3" y="65">30 rows</text></g>
<g id="SupplyTechsCO2Capture" transform="translate(502.5,6073)"><rect class="h" width="177.9" height="24"/><rect class="w" y="24" width="177.9" height="24"/><rect class="f" y="48" width="177.9" height="24"/><path class="s" d="M57,48v24M133.6,48v24"/><text class="c" x="88.95" y="17">SupplyTechsCO2Capture</text><text x="5" y="41">...</text><text x="5" y="65">&lt; 7</text><text class="e" x="127.6" y="65">28 rows</text><text class="e" x="172.9" y="65">1 &gt;</text></g>
<g id="SupplyTechsEfficiency" transform="translate(512,6173)"><rect class="h" width="157.5" height="24"/><rect class="w" y="24" width="157.5" height="24"/><rect class="f" y="48" width="157.5" height="24"/><path class="s" d="M43.3,48v24M120.2,48v24"/><text class="c" x="78.75" y="17">SupplyTechsEfficiency</text><text x="5" y="41">...</text><text x="5" y="65">&lt; 7</text><text class="e" x="114.2" y="65">113 rows</text><text class="e" x="152.5" y="65">1 &gt;</text></g>
<g id="SupplyTechsVariableMaintenanceCost" transform="translate(461.2,6272.5)"><rect class="h" width="258.8" height="24"/><rect class="w" y="24" width="258.8" height="24"/><rect class="f" y="48" width="258.8" height="24"/><path class="s" d="M98.7,48v24M194.7,48v24"/><text class="c" x="129.4" y="17">SupplyTechsVariableMaintenanceCost</text><text x="5" y="41">...</text><text x="5" y="65">&lt; 9</text><text class="e" x="188.7" y="65">81 rows</text><text class="e" x="253.8" y="65">1 &gt;</text></g>
<g id="DemandEnergyEfficiencyMeasures" transform="translate(471.9,6425)"><rect class="h" width="237.2" height="24"/><rect class="w" y="24" width="237.2" height="24"/><rect class="f" y="48" width="237.2" height="24"/><path class="s" d="M88,48v24M178.6,48v24"/><text class="c" x="118.6" y="17">DemandEnergyEfficiencyMeasures</text><text x="5" y="41">...</text><text x="5" y="65">&lt; 8</text><text class="e" x="172.6" y="65">72 rows</text><text class="e" x="232.2" y="65">4 &gt;</text></g>
<g id="DemandServiceDemandMeasures" transform="translate(474.5,6525)"><rect class="h" width="233.5" height="24"/><rect class="w" y="24" width="233.5" height="384"/><rect class="p" y="24" width="233.5" height="24"/><rect class="f" y="408" width="233.5" height="24"/><path class="s" d="M0,48H233.5M0,72H233.5M0,96H233.5M0,120H233.5M0,144H233.5M0,168H233.5M0,192H233.5M0,216H233.5M0,240H233.5M0,264H233.5M0,288H233.5M0,312H233.5M0,336H233.5M0,360H233.5M0,384H233.5M85.4,408v24M174.8,408v24"/><text class="c" x="116.75" y="17">DemandServiceDemandMeasures</text><text x="5" y="41">id</text><text x="5" y="65">name</text><text x="5" y="89">subsector_id</text><text x="5" y="113">input_type_id</text><text x="5" y="137">unit</text><text x="5" y="161">geography_id</text><text x="5" y="185">other_index_1_id</text><text x="5" y="209">other_index_2_id</text><text x="5" y="233">interpolation_method_id</text><text x="5" y="257">extrapolation_method_id</text><text x="5" y="281">extrapolation_growth</text><text x="5" y="305">stock_decay_function_id</text><text x="5" y="329">min_lifetime</text><text x="5" y="353">max_lifetime</text><text x="5" y="377">mean_lifetime</text><text x="5" y="401">lifetime_variance</text><text x="5" y="425">&lt; 8</text><text class="e" x="168.8" y="425">15 rows</text><text class="e" x="228.5" y="425">4 &gt;</text></g>
<g id="DemandCO2CaptureMeasures" transform="translate(484.9,6984.5)"><rect class="h" width="212.6" height="24"/><rect class="w" y="24" width="212.6" height="24"/><rect class="f" y="48" width="212.6" height="24"/><path class="s" d="M85.7,48v24M166.8,48v24"/><text class="c" x="106.3" y="17">DemandCO2CaptureMeasures</text><text x="5" y="41">...</text><text x="5" y="65">&lt; 8</text><text class="e" x="160.8" y="65">0 rows</text></g>
<g id="DemandEnergyEfficiencyMeasuresCostData" transform="translate(843,1935.4)"><rect class="h" width="300" height="24"/><rect class="w" y="24" width="300" height="24"/><rect class="f" y="48" width="300" height="24"/><path class="s" d="M114.8,48v24M238.6,48v24"/><text class="c" x="150" y="17">DemandEnergyEfficiencyMeasuresCostData</text><text x="5" y="41">...</text><text x="5" y="65">&lt; 5</text><text class="e" x="232.6" y="65">1,412 rows</text></g>
<g id="DemandEnergyEfficiencyMeasuresData" transform="translate(857.6,3963.4)"><rect class="h" width="269.8" height="24"/><rect class="w" y="24" width="269.8" height="24"/><rect class="f" y="48" width="269.8" height="24"/><path class="s" d="M105.7,48v24M213.4,48v24"/><text class="c" x="134.9" y="17">DemandEnergyEfficiencyMeasuresData</text><text x="5" y="41">...</text><text x="5" y="65">&lt; 5</text><text class="e" x="207.4" y="65">240 rows</text></g>
<g id="DemandServiceDemandMeasuresData" transform="translate(858,4338)"><rect class="h" width="268" height="24.2"/><rect class="w" y="24.2" width="268" height="169.4"/><rect class="p" y="169.4" width="169.2" height="24.2"/><rect class="f" y="193.6" width="268" height="24.2"/><path class="s" d="M0,48.4H268M0,72.6H268M0,96.8H268M0,121H268M0,145.2H268M0,169.4H268M169.2,24.2V193.6M82.7,193.6v24.2M169.2,193.6v24.2"/><rect width="268" height="217.8" fill="none" stroke="#000" stroke-width="3"/><text class="c" x="134" y="17">DemandServiceDemandMeasuresData</text><text x="7" y="41.2">parent_id</text><text x="173" y="41.2">int4[10]</text><text x="7" y="65.4">gau_id</text><text x="173" y="65.4">int4[10]</text><text x="7" y="89.6">oth_1_id</text><text x="173" y="89.6">int4[10]</text><text x="7" y="113.8">oth_2_id</text><text x="173" y="113.8">int4[10]</text><text x="7" y="138">year</text><text x="173" y="138">int4[10]</text><text x="7" y="162.2">value</text><text x="173" y="162.2">float4[8,8]</text><text x="7" y="186.4">id</text><text x="173" y="186.4">serial[10]</text><text x="5" y="210.6">&lt; 4</text><text class="e" x="163.2" y="210.6">60 rows</text><text class="e" x="263" y="210.6">0 &gt;</text></g>
<g id="DemandServiceDemandMeasuresCostData" transform="translate(844.5,5097)"><rect class="h" width="296" height="24"/><rect class="w" y="24" width="296" height="24"/><rect class="f" y="48" width="296" height="24"/><path class="s" d="M126.3,48v24M229,48v24"/><text class="c" x="148" y="17">DemandServiceDemandMeasuresCostData</text><text x="5" y="41">...</text><text x="5" y="65">&lt; 4</text><text class="e" x="223" y="65">0 rows</text></g>
<g id="DemandServiceDemandMeasuresCost" transform="translate(860.2,6349)"><rect class="h" width="266" height="24"/><rect class="w" y="24" width="266" height="24"/><rect class="f" y="48" width="266" height="24"/><path class="s" d="M112.2,48v24M207,48v24"/><text class="c" x="133" y="17">DemandServiceDemandMeasuresCost</text><text x="5" y="41">...</text><text x="5" y="65">&lt; 8</text><text class="e" x="201" y="65">0 rows</text></g>
<g id="DemandServiceDemandMeasurePackagesData" transform="translate(832.6,6524.5)"><rect class="h" width="321.2" height="24"/><rect class="w" y="24" width="321.2" height="24"/><rect class="f" y="48" width="321.2" height="24"/><path class="s" d="M135.9,48v24M250.5,48v24"/><text class="c" x="160.6" y="17">DemandServiceDemandMeasurePackagesData</text><text x="5" y="41">...</text><text x="5" y="65">&lt; 2</text><text class="e" x="244.5" y="65">14 rows</text></g>
<g id="OtherIndexes" transform="translate(16.5,5870.5)"><rect class="h" width="116.3" height="24"/><rect class="w" y="24" width="116.3" height="24"/><rect class="f" y="48" width="116.3" height="24"/><path class="s" d="M17.5,48v24M78.5,48v24"/><text class="c" x="58.15" y="17">OtherIndexes</text><text x="5" y="41">...</text><text class="e" x="72.5" y="65">29 rows</text><text class="e" x="111.3" y="65">63 &gt;</text></g>
<g id="Geographies" transform="translate(16.5,6527.5)"><rect class="h" width="116.3" height="24"/><rect class="w" y="24" width="116.3" height="24"/><rect class="f" y="48" width="116.3" height="24"/><path class="s" d="M17.5,48v24M78.5,48v24"/><text class="c" x="58.15" y="17">Geographies</text><text x="5" y="41">...</text><text class="e" x="72.5" y="65">12 rows</text><text class="e" x="111.3" y="65">54 &gt;</text></g>
<g id="CleaningMethods" transform="translate(213.2,6280.5)"><rect class="h" width="121.7" height="24"/><rect class="w" y="24" width="121.7" height="24"/><rect class="f" y="48" width="121.7" height="24"/><path class="s" d="M20.2,48v24M74.6,48v24"/><text class="c" x="60.85" y="17">CleaningMethods</text><text x="5" y="41">...</text><text class="e" x="68.6" y="65">8 rows</text><text class="e" x="116.7" y="65">108 &gt;</text></g>
<g id="DemandSubsectors" transform="translate(204,6477)"><rect class="h" width="140.4" height="24"/><rect class="w" y="24" width="140.4" height="24"/><rect class="f" y="48" width="140.4" height="24"/><path class="s" d="M34.4,48v24M98.3,48v24"/><text class="c" x="70.2" y="17">DemandSubsectors</text><text x="5" y="41">...</text><text x="5" y="65">&lt; 2</text><text class="e" x="92.3" y="65">63 rows</text><text class="e" x="135.4" y="65">24 &gt;</text></g>
<g id="InputTypes" transform="translate(219.7,6576.5)"><rect class="h" width="108.7" height="24"/><rect class="w" y="24" width="108.7" height="24"/><rect class="f" y="48" width="108.7" height="24"/><path class="s" d="M17.6,48v24M71.2,48v24"/><text class="c" x="54.35" y="17">InputTypes</text><text x="5" y="41">...</text><text class="e" x="65.2" y="65">2 rows</text><text class="e" x="103.7" y="65">11 &gt;</text></g>
<g id="StockDecayFunctions" transform="translate(197.1,6789)"><rect class="h" width="152.3" height="24"/><rect class="w" y="24" width="152.3" height="24"/><rect class="f" y="48" width="152.3" height="24"/><path class="s" d="M42.9,48v24M109.8,48v24"/><text class="c" x="76.15" y="17">StockDecayFunctions</text><text x="5" y="41">...</text><text class="e" x="103.8" y="65">3 rows</text><text class="e" x="147.3" y="65">7 &gt;</text></g>
<text x="16.5" y="7155">Generated by SchemaSpy</text>
</g>
</svg>
